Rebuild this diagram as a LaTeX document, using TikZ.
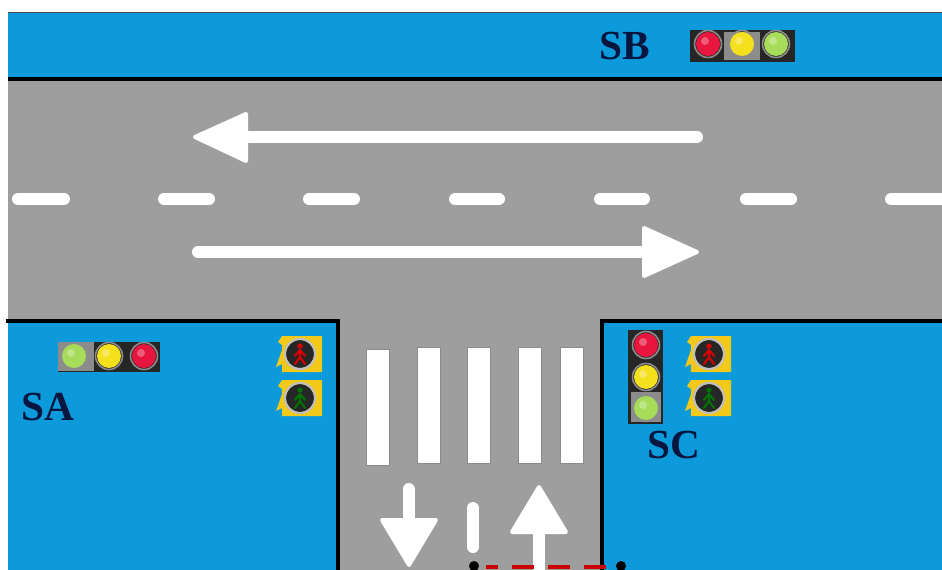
\documentclass[tikz,border=0pt]{standalone}
\usepackage{fontspec}
\setmainfont{Liberation Serif}
\usepackage{tikz}
\definecolor{roadgray}{HTML}{9E9E9E}
\definecolor{walkblue}{HTML}{0C9ADB}
\definecolor{labelnavy}{HTML}{06163F}
\definecolor{lampred}{HTML}{E8153F}
\definecolor{lampyellow}{HTML}{F5E01E}
\definecolor{lampgreen}{HTML}{A6DC5A}
\definecolor{pedyellow}{HTML}{F2C919}
\providecommand{\lamp}[3]{\fill[#3] (#1,#2) circle (12);
  \draw[lampring] (#1,#2) circle (13.5);
  \fill[white, opacity=.3] (#1-3,#2-3) circle (4);}
\providecommand{\ped}[3]{\fill[pedyellow] (#1-18,#2-18) -- (#1+22,#2-18) -- (#1+22,#2+18) -- (#1-18,#2+18) -- (#1-18,#2+10) -- (#1-24,#2+13) -- (#1-18,#2-4) -- (#1-18,#2-9) -- (#1-22,#2-12) -- cycle;
  \fill[black!85] (#1,#2) circle (14);
  \draw[pedring] (#1,#2) circle (15);
  \fill[#3] (#1,#2-8) circle (2.6);
  \draw[#3, line width=1.6, line cap=round] (#1,#2-4) -- (#1,#2+3) (#1-5,#2+2) -- (#1,#2-4) -- (#1+5,#2+2) (#1-5,#2+10) -- (#1,#2+3) -- (#1+5,#2+10);}
\begin{document}
\begin{tikzpicture}[
  x=0.75pt, y=-0.75pt,
  sign/.style={font=\fontsize{31}{31}\selectfont\bfseries, text=labelnavy, inner sep=0pt},
  block/.style={fill=walkblue},
  kerb/.style={draw=black, line width=3, line cap=butt},
  paint/.style={draw=white, line width=9, line cap=round},
  painttip/.style={fill=white, draw=white, line width=3, line join=round},
  bar/.style={fill=white, draw=black!45, line width=.5},
  housing/.style={fill=black!85},
  lampring/.style={draw=black!45, line width=1.2},
  pedring/.style={draw=black!25, line width=1.6},
]
\useasboundingbox (0,0) rectangle (942,570);
\clip (0,0) rectangle (942,570);

% ---------------- ground ----------------
\fill[white] (0,0) rectangle (942,570);
\fill[roadgray] (8,12) rectangle (942,570);
\fill[block] (8,13) rectangle (942,78);
\fill[block] (8,321) rectangle (338,570);
\fill[block] (602,321) rectangle (942,570);

% ---------------- kerbs ----------------
\draw[black!70, line width=1] (8,12.5) -- (942,12.5);
\draw[kerb] (8,79) -- (942,79);
\draw[kerb] (6,321) -- (338,321) -- (338,570);
\draw[kerb] (942,321) -- (602,321) -- (602,570);

% ---------------- centre line ----------------
\draw[paint] (18,199) -- (64,199);
\draw[paint] (164,199) -- (209,199);
\draw[paint] (309,199) -- (354,199);
\draw[paint] (455,199) -- (499,199);
\draw[paint] (600,199) -- (644,199);
\draw[paint] (746,199) -- (791,199);
\draw[paint] (891,199) -- (950,199);

% ---------------- road arrows ----------------
\draw[paint] (697,137) -- (240,137);
\fill[painttip] (195,137) -- (246,114) -- (246,161) -- cycle;
\draw[paint] (198,252) -- (650,252);
\fill[painttip] (697,252) -- (644,228) -- (644,276) -- cycle;

% ---------------- crossing ----------------
\filldraw[bar] (366,349) rectangle (389,465);
\filldraw[bar] (417,347) rectangle (440,463);
\filldraw[bar] (467,347) rectangle (490,463);
\filldraw[bar] (518,347) rectangle (541,463);
\filldraw[bar] (560,347) rectangle (583,463);

% ---------------- side road markings ----------------
\draw[paint] (408.5,489) -- (408.5,525);
\fill[painttip] (409,565) -- (382,520) -- (436,520) -- cycle;
\draw[paint] (473,508) -- (473,547);
\draw[paint] (539,530) -- (539,580);
\fill[painttip] (539,487) -- (512,532) -- (566,532) -- cycle;
\draw[red!80!black, line width=2.4, dash pattern=on 16.5pt off 10.5pt, dash phase=7.5pt] (486,567) -- (610,567);
\fill[black] (474,566) circle (5);
\fill[black] (621,566) circle (5);

% ---------------- signal heads ----------------
\fill[housing] (690,30) rectangle (795,62);
\fill[black!45] (724,32) rectangle (760,60);
\lamp{708}{44}{lampred}
\lamp{742}{44}{lampyellow}
\lamp{776}{44}{lampgreen}

\fill[housing] (58,342) rectangle (160,372);
\fill[black!45] (58,342) rectangle (94,371);
\lamp{74}{356}{lampgreen}
\lamp{109}{356}{lampyellow}
\lamp{144}{356}{lampred}

\fill[housing] (628,330) rectangle (663,424);
\fill[black!45] (631,392) rectangle (661,422);
\lamp{646}{345}{lampred}
\lamp{646}{377}{lampyellow}
\lamp{646}{408}{lampgreen}

% ---------------- pedestrian heads ----------------
\ped{300}{354}{red!85!black}
\ped{300}{398}{green!45!black}
\ped{709}{354}{red!85!black}
\ped{709}{398}{green!45!black}

% ---------------- names ----------------
\node[sign] (sb) at (625,46) {SB};
\node[sign] (sa) at (48,407) {SA};
\node[sign] (sc) at (674,445) {SC};

\end{tikzpicture}
\end{document}
